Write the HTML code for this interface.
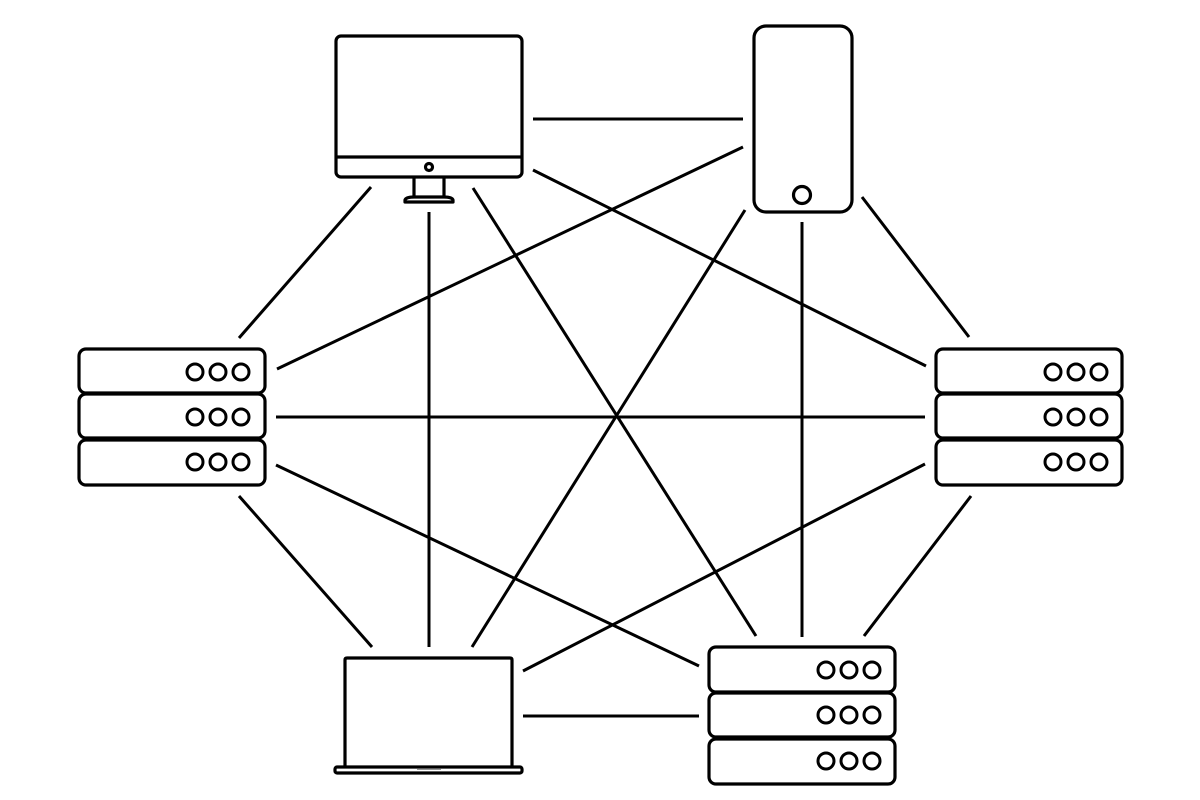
<!DOCTYPE html>
<html>
<head>
<meta charset="utf-8">
<style>
html,body{margin:0;padding:0;background:#fff;}
svg{display:block;}
</style>
</head>
<body>
<svg width="1200" height="800" viewBox="0 0 1200 800" xmlns="http://www.w3.org/2000/svg">
<rect width="1200" height="800" fill="#fff"/>
<g stroke="#000" stroke-width="3" fill="none" stroke-linecap="butt">
  <line x1="533" y1="119" x2="743" y2="119"/>
  <line x1="533" y1="170" x2="926" y2="366"/>
  <line x1="743" y1="147" x2="277" y2="369"/>
  <line x1="371" y1="187" x2="239" y2="338"/>
  <line x1="429" y1="212" x2="429" y2="647"/>
  <line x1="473" y1="188" x2="756" y2="636"/>
  <line x1="745" y1="210" x2="472" y2="647"/>
  <line x1="802" y1="222" x2="802" y2="637"/>
  <line x1="862" y1="197" x2="969" y2="337"/>
  <line x1="276" y1="417" x2="925" y2="417"/>
  <line x1="276" y1="465" x2="699" y2="666"/>
  <line x1="239" y1="496" x2="372" y2="647"/>
  <line x1="925" y1="464" x2="523" y2="671"/>
  <line x1="971" y1="496" x2="864" y2="636"/>
  <line x1="523" y1="716" x2="699" y2="716"/>
</g>
<g stroke="#000" stroke-width="3.2" fill="#fff" stroke-linejoin="round">
  <!-- monitor -->
  <rect x="336" y="36" width="186" height="141" rx="5"/>
  <line x1="336" y1="157" x2="522" y2="157"/>
  <circle cx="429" cy="167" r="3.5"/>
  <path d="M414 177 V197 M444 177 V197" fill="none"/>
  <path d="M414 197 H444 Q452 197 453 200 V202 H405 V200 Q406 197 414 197 Z"/>
  <!-- phone -->
  <rect x="754" y="26" width="98" height="186" rx="12"/>
  <circle cx="802" cy="195" r="8.5"/>
  <!-- laptop -->
  <path d="M345 767 V660 Q345 658 347 658 H510 Q512 658 512 660 V767" fill="#fff"/>
  <rect x="335" y="767" width="187" height="6" rx="2"/>
</g>
<line x1="417" y1="769" x2="441" y2="769" stroke="#777" stroke-width="1.5"/>
<g stroke="#000" stroke-width="3.2" fill="#fff" stroke-linejoin="round">
  <!-- left server -->
  <rect x="79" y="349" width="186" height="44" rx="7"/>
  <rect x="79" y="394" width="186" height="44" rx="7"/>
  <rect x="79" y="440" width="186" height="45" rx="7"/>
  <!-- right server -->
  <rect x="936" y="349" width="186" height="44" rx="7"/>
  <rect x="936" y="394" width="186" height="44" rx="7"/>
  <rect x="936" y="440" width="186" height="45" rx="7"/>
  <!-- bottom server -->
  <rect x="709" y="647" width="186" height="45" rx="7"/>
  <rect x="709" y="693" width="186" height="44" rx="7"/>
  <rect x="709" y="739" width="186" height="45" rx="7"/>
</g>
<g stroke="#000" stroke-width="3" fill="none">
  <circle cx="195" cy="372" r="8"/><circle cx="218" cy="372" r="8"/><circle cx="241" cy="372" r="8"/>
  <circle cx="195" cy="417" r="8"/><circle cx="218" cy="417" r="8"/><circle cx="241" cy="417" r="8"/>
  <circle cx="195" cy="462" r="8"/><circle cx="218" cy="462" r="8"/><circle cx="241" cy="462" r="8"/>

  <circle cx="1053" cy="372" r="8"/><circle cx="1076" cy="372" r="8"/><circle cx="1099" cy="372" r="8"/>
  <circle cx="1053" cy="417" r="8"/><circle cx="1076" cy="417" r="8"/><circle cx="1099" cy="417" r="8"/>
  <circle cx="1053" cy="462" r="8"/><circle cx="1076" cy="462" r="8"/><circle cx="1099" cy="462" r="8"/>

  <circle cx="826" cy="670" r="8"/><circle cx="849" cy="670" r="8"/><circle cx="872" cy="670" r="8"/>
  <circle cx="826" cy="715" r="8"/><circle cx="849" cy="715" r="8"/><circle cx="872" cy="715" r="8"/>
  <circle cx="826" cy="761" r="8"/><circle cx="849" cy="761" r="8"/><circle cx="872" cy="761" r="8"/>
</g>
</svg>
</body>
</html>
